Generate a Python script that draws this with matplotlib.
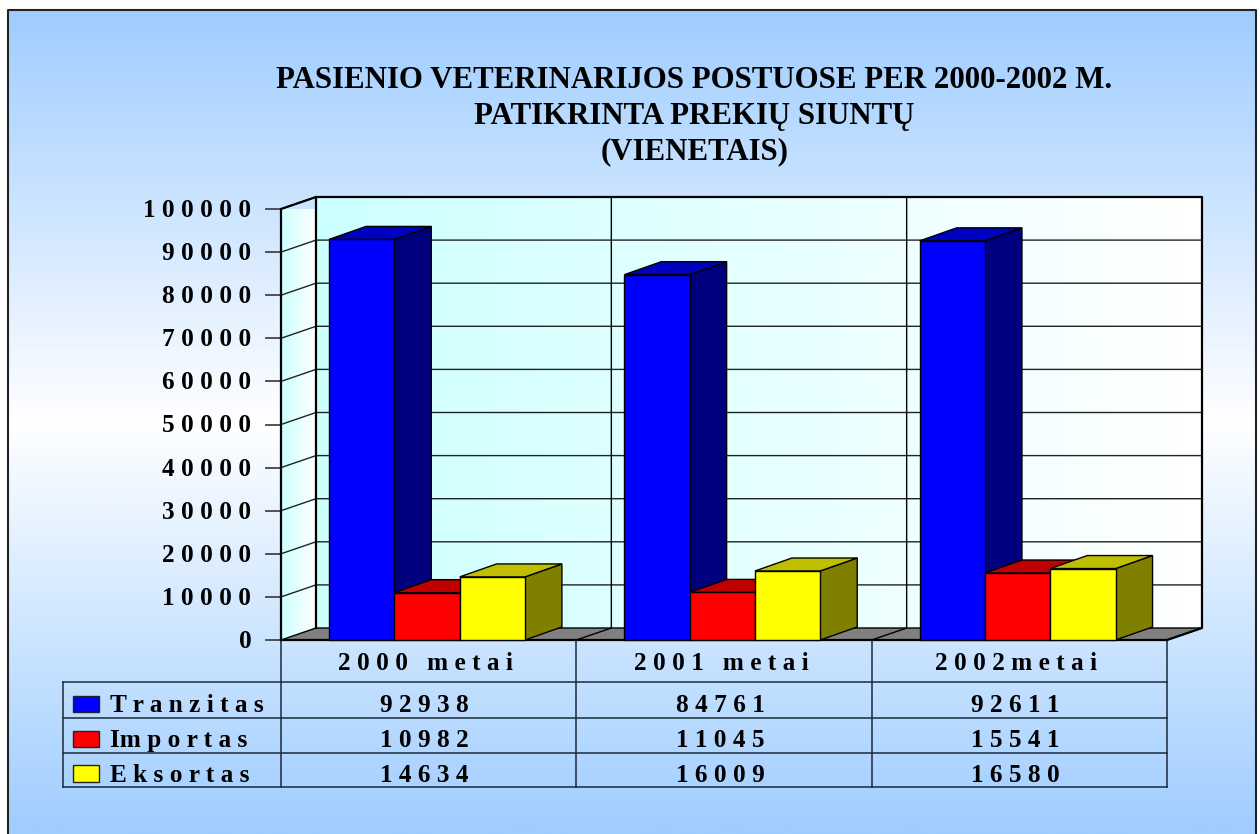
#import
import numpy as np
import matplotlib.pyplot as plt
from matplotlib.colors import LinearSegmentedColormap
from matplotlib.patches import Polygon, Rectangle

#dati
anni = ['2000 metai', '2001 metai', '2002metai']
serie = ['Tranzitas', 'Importas', 'Eksortas']
tranzitas = [92938, 84761, 92611]
importas = [10982, 11045, 15541]
eksportas = [14634, 16009, 16580]
tick_val = [0, 10000, 20000, 30000, 40000, 50000, 60000, 70000, 80000, 90000, 100000]
titolo = 'PASIENIO VETERINARIJOS POSTUOSE PER 2000-2002 M.\nPATIKRINTA PREKIŲ SIUNTŲ\n(VIENETAIS)'

#colori (fronte, alto, lato)
colori = [('#0000ff', '#0000bf', '#00007f'),
          ('#ff0000', '#bf0000', '#7f0000'),
          ('#ffff00', '#bfbf00', '#7f7f00')]

plt.rcParams['font.family'] = ['Liberation Serif', 'DejaVu Serif']
plt.rcParams['font.weight'] = 'bold'

W, H = 1260, 834
fig = plt.figure(figsize=(W/100, H/100), dpi=100, facecolor='white')

#sfondo in pixel
bg = fig.add_axes([0, 0, 1, 1])
bg.axis('off')
cm_bg = LinearSegmentedColormap.from_list('bg', ['#9fcdff', '#ffffff', '#9fcdff'])
grad = np.linspace(0, 1, 400).reshape(-1, 1)
bg.imshow(grad, cmap=cm_bg, extent=[7.5, 1255.5, 834, 10], aspect='auto', zorder=1)
bg.set_xlim(0, W)
bg.set_ylim(H, 0)
bg.plot([7.5, 7.5, 1255.5, 1255.5], [834, 10, 10, 834], color='#222222', lw=1.5, zorder=2)

bg.text(694.5, 116, titolo, ha='center', va='center', fontsize=22.2, color='black',
        linespacing=1.31, zorder=5)

#assi: piano frontale del grafico
x0, x1, y0, y1 = 281, 1167, 640, 209
ax = fig.add_axes([x0/W, (H-y0)/H, (x1-x0)/W, (y0-y1)/H])
ax.axis('off')
ax.patch.set_alpha(0)

#scala in pixel degli assi
px_x = (x1-x0)/3
px_y = (y0-y1)/100000

#profondita' 3D in unita' dati
dx = 35/px_x
dy = 12/px_y
dx_bar = 37/px_x
dy_bar = 13/px_y
w_bar = 65.3/px_x
start = 48/px_x

def sp(s):
  #testo spaziato come nell'originale
  return ' '.join(s).replace('I m', 'Im')

#pareti
cm_wall = LinearSegmentedColormap.from_list('wall', ['#ccffff', '#ffffff'])
g = np.linspace(0, 1, 256).reshape(1, -1)
ax.imshow(g, cmap=cm_wall, extent=[dx, 3+dx, dy, 100000+dy], aspect='auto', zorder=1, clip_on=False)
im = ax.imshow(g, cmap=cm_wall, extent=[0, dx, 0, 100000+dy], aspect='auto', zorder=1)
im.set_clip_box(None)
im.set_clip_path(Polygon([(0, 0), (dx, dy), (dx, 100000+dy), (0, 100000)], transform=ax.transData))
ax.set_xlim(0, 3)
ax.set_ylim(0, 100000)

#pavimento
ax.add_patch(Polygon([(0, 0), (dx, dy), (3+dx, dy), (3, 0)], fc='#808080', ec='black', lw=1, zorder=2, clip_on=False))

#griglia e tacche
for v in tick_val:
  if v > 0:
    ax.plot([0, dx, 3+dx], [v, v+dy, v+dy], color='#222222', lw=1, zorder=2, clip_on=False)
  ax.plot([-15/px_x, 0], [v, v], color='#444444', lw=1.3, zorder=2, clip_on=False)
  ax.annotate(sp(str(v)), (0, v), xytext=(-29.5*0.72, -8*0.72), textcoords='offset points',
              ha='right', va='baseline', fontsize=18.2, zorder=5, annotation_clip=False)

#divisori verticali e bordo
for i in range(1, 3):
  ax.plot([i, i+dx, i+dx], [0, dy, 100000+dy], color='black', lw=1, zorder=2, clip_on=False)
ax.plot([0, 0, dx, dx], [0, 100000, 100000+dy, dy], color='black', lw=1.6, zorder=3, clip_on=False)
ax.plot([dx, 3+dx, 3+dx, 3], [100000+dy, 100000+dy, dy, 0], color='black', lw=1.6, zorder=3, clip_on=False)
ax.plot([0, 3], [0, 0], color='black', lw=1.6, zorder=3, clip_on=False)

#barre 3D
for k, valori in enumerate([tranzitas, importas, eksportas]):
  for i, v in enumerate(valori):
    a = i + start + k*w_bar
    b = a + w_bar
    z = 6 + k
    ax.add_patch(Polygon([(b, 0), (b+dx_bar, dy_bar), (b+dx_bar, v+dy_bar), (b, v)], fc=colori[k][2], ec='black', lw=1, zorder=z, clip_on=False))
    ax.add_patch(Polygon([(a, v), (a+dx_bar, v+dy_bar), (b+dx_bar, v+dy_bar), (b, v)], fc=colori[k][1], ec='black', lw=1, zorder=z, clip_on=False))
    ax.add_patch(Rectangle((a, 0), w_bar, v, fc=colori[k][0], ec='black', lw=1, zorder=z, clip_on=False))

#tabella dati
righe = [640, 682, 717.5, 752.5, 787]
for y in righe:
  bg.plot([281 if y == 640 else 63, x1], [y, y], color='#1a2a3a', lw=1.1, zorder=3)
bg.plot([63, 63], [682, 787], color='#1a2a3a', lw=1.1, zorder=3)
for i in range(4):
  xc = x0 + i*(x1-x0)/3
  bg.plot([xc, xc], [640, 787], color='#1a2a3a', lw=1.1, zorder=3)

for i, nome in enumerate(anni):
  xc = x0 + (i+0.5)*(x1-x0)/3
  bg.text(xc-3, 670.5, sp(nome), ha='center', va='baseline', fontsize=18.2, zorder=5)
  for j, valori in enumerate([tranzitas, importas, eksportas]):
    bg.text(xc-4, righe[j+2]-5.5, sp(str(valori[i])), ha='center', va='baseline', fontsize=18.2, zorder=5)

for j, nome in enumerate(serie):
  base = righe[j+2]-5.5
  bg.add_patch(Rectangle((73, base-16.5), 26, 16.5, fc=colori[j][0], ec='#222222', lw=1, zorder=4))
  bg.text(110, base, sp(nome), ha='left', va='baseline', fontsize=18.2, zorder=5)

fig.savefig('out.png', dpi=100)
